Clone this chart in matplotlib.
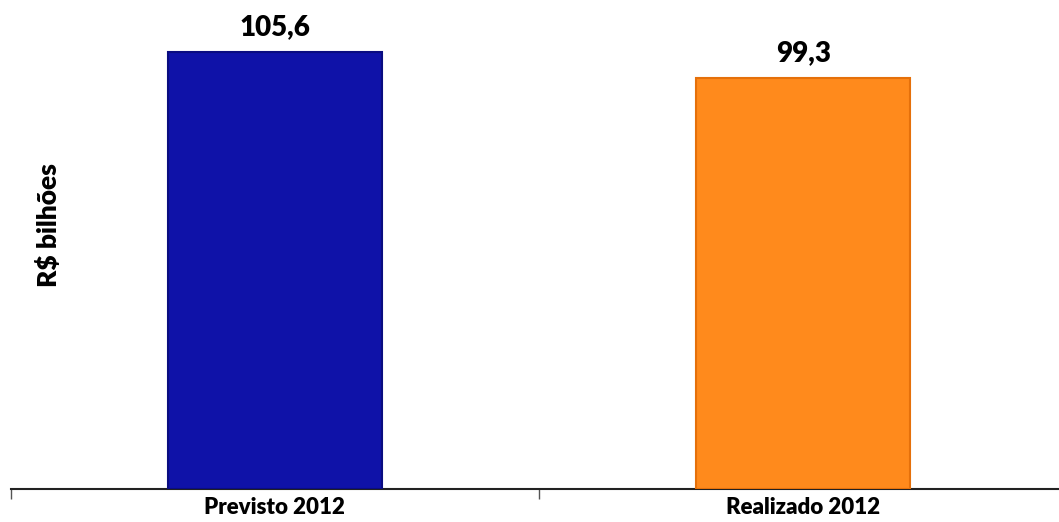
import matplotlib
matplotlib.use("Agg")
import matplotlib.pyplot as plt

categories = ["Previsto 2012", "Realizado 2012"]
values = [105.6, 99.3]
value_labels = ["105,6", "99,3"]
colors = ["#0F12A8", "#FF8A1C"]
edge_colors = ["#0A0C80", "#E5700A"]

plt.rcParams['font.family'] = ['Lato', 'DejaVu Sans']

W, H = 1059, 522
fig = plt.figure(figsize=(W / 100, H / 100), dpi=100)
ax = fig.add_axes([10.5 / W, 33 / H, 1057 / W, 488 / H])

x = list(range(len(categories)))
bars = ax.bar(x, values, width=0.405, color=colors, edgecolor=edge_colors,
              linewidth=1.5, zorder=3)

for xi, v, lab in zip(x, values, value_labels):
    ax.annotate(lab, (xi, v), xytext=(0, 9), textcoords="offset points",
                ha="center", va="bottom", fontsize=20, fontweight="heavy")

ax.set_xlim(-0.5, len(categories) - 0.5)
ax.set_ylim(0, 118)

ax.set_xticks([i - 0.5 for i in range(len(categories) + 1)])
ax.set_xticklabels([])
ax.set_xticks(x, minor=True)
ax.set_xticklabels(categories, minor=True, fontsize=16, fontweight="heavy")
ax.tick_params(axis="x", which="major", length=7, width=1, color="#555555")
ax.tick_params(axis="x", which="minor", length=0, pad=6)

ax.set_yticks([])
for s in ["top", "right", "left"]:
    ax.spines[s].set_visible(False)
ax.spines["bottom"].set_linewidth(1.5)
ax.spines["bottom"].set_color("#222222")

fig.text(48 / W, 1 - 225 / H, "R$ bilhões", rotation=90, ha="center", va="center",
         fontsize=19, fontweight="heavy")

fig.savefig("out.png", dpi=100)
